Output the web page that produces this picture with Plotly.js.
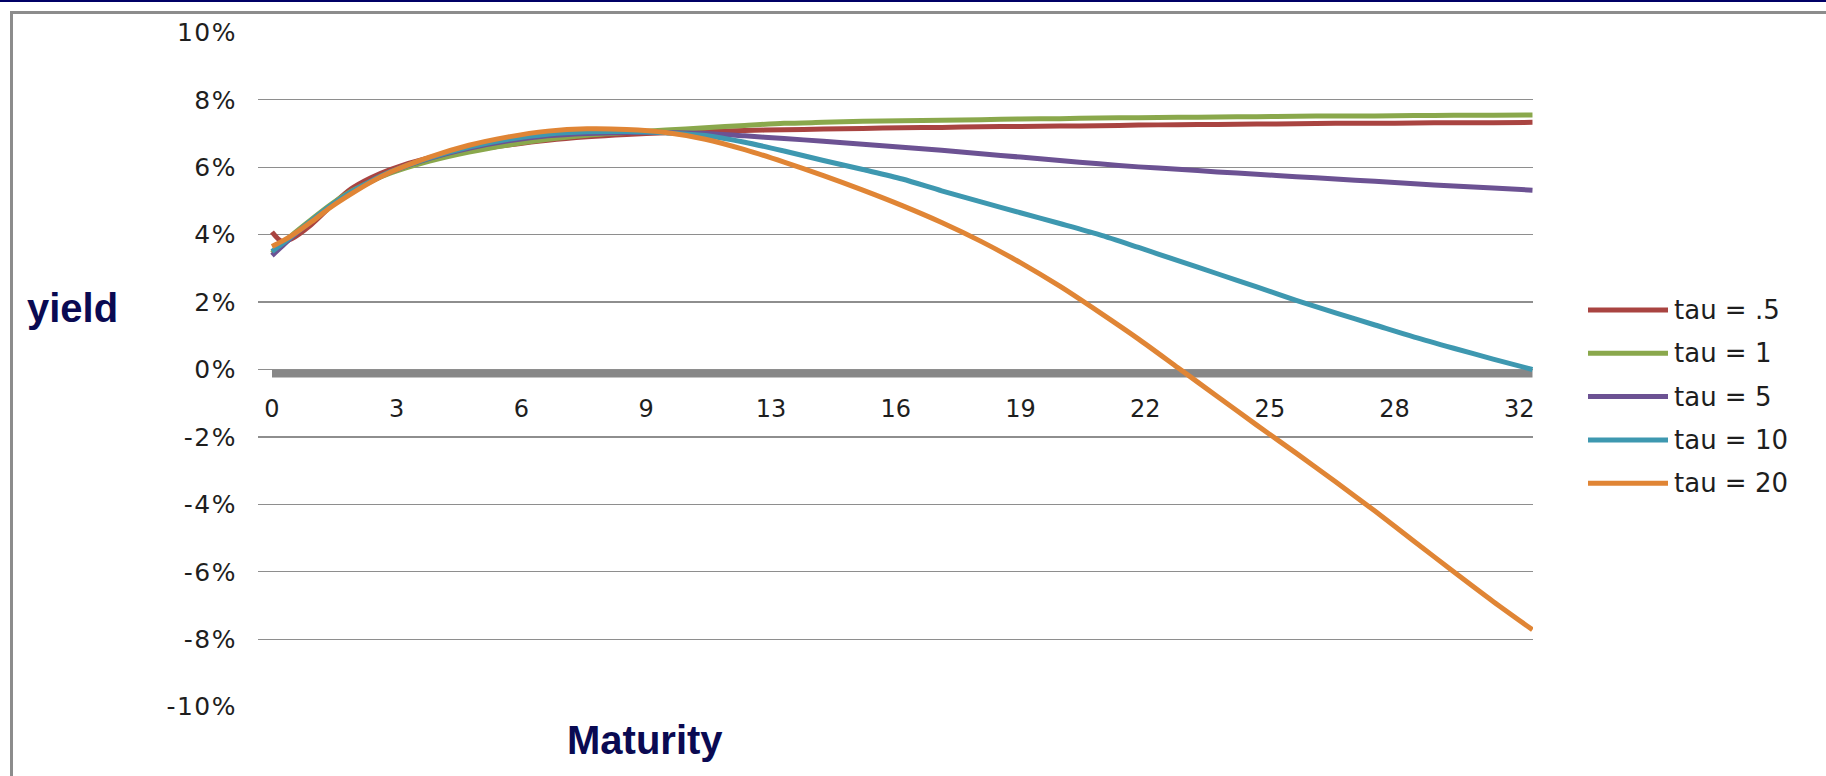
<!DOCTYPE html>
<html>
<head>
<meta charset="utf-8">
<script src="https://cdn.plot.ly/plotly-3.0.1.min.js"></script>
<style>
  html, body { margin: 0; padding: 0; background: #ffffff; }
  #wrap { position: relative; width: 1826px; height: 776px; overflow: hidden; background: #ffffff; }
  #topline { position: absolute; left: 0; top: 0; width: 1826px; height: 2px; background: #000066; }
  #frame { position: absolute; left: 10px; top: 11px; width: 1900px; height: 900px;
           border-left: 3px solid #8c8c8c; border-top: 3px solid #8c8c8c; }
  #chart { position: absolute; left: 0; top: 0; width: 1826px; height: 776px; }
  #chart .ytick text { letter-spacing: 1.5px; }
</style>
</head>
<body>
<div id="wrap">
  <div id="topline"></div>
  <div id="frame"></div>
  <div id="chart"></div>
</div>
<script>
// ---- data (yield in %) ----
const maturity = [0,0.25,0.5,1,1.5,2,2.5,3,4,5,6,7,8,9,10,11,12,13,14,15,16,17,18,19,20,21,22,23,24,25,26,27,28,29,30,31,32];

const tau05 = [4.08,3.80,3.88,4.30,4.85,5.35,5.68,5.93,6.28,6.50,6.66,6.80,6.90,6.97,7.02,7.06,7.09,7.11,7.13,7.15,7.17,7.18,7.20,7.21,7.22,7.23,7.25,7.26,7.27,7.28,7.29,7.30,7.30,7.31,7.32,7.32,7.33];
const tau1  = [3.45,3.72,3.98,4.45,4.90,5.28,5.57,5.82,6.18,6.45,6.66,6.83,6.95,7.03,7.10,7.17,7.24,7.30,7.33,7.36,7.38,7.39,7.41,7.43,7.44,7.46,7.47,7.48,7.49,7.50,7.51,7.52,7.52,7.53,7.54,7.54,7.55];
const tau5  = [3.38,3.65,3.92,4.40,4.85,5.25,5.57,5.85,6.26,6.56,6.78,6.93,7.00,7.03,7.03,7.00,6.93,6.85,6.77,6.68,6.59,6.50,6.40,6.30,6.20,6.10,6.01,5.94,5.86,5.79,5.72,5.65,5.58,5.51,5.44,5.38,5.32];
const tau10 = [3.50,3.72,3.95,4.42,4.87,5.26,5.58,5.86,6.28,6.60,6.83,6.98,7.05,7.06,7.02,6.94,6.74,6.48,6.20,5.93,5.65,5.30,4.97,4.65,4.33,4.00,3.62,3.23,2.84,2.45,2.05,1.68,1.32,0.96,0.63,0.31,0.00];
const tau20 = [3.65,3.80,3.97,4.38,4.82,5.20,5.55,5.85,6.30,6.65,6.90,7.07,7.14,7.12,7.03,6.83,6.52,6.15,5.75,5.32,4.86,4.36,3.80,3.17,2.47,1.70,0.90,0.05,-0.80,-1.65,-2.48,-3.33,-4.20,-5.10,-6.00,-6.88,-7.72];

const seriesNames  = ['tau = .5','tau = 1','tau = 5','tau = 10','tau = 20'];
const seriesValues = [tau05, tau1, tau5, tau10, tau20];
const seriesColors = ['#A94441','#8AA84C','#6C5293','#3E98B0','#E08535'];

// category labels on the maturity axis (every 38th monthly point)
const xTickMonths = [0,38,76,114,152,190,228,266,304,342,380];
const xTickLabels = ['0','3','6','9','13','16','19','22','25','28','32'];
const yTickVals   = [10,8,6,4,2,0,-2,-4,-6,-8,-10];
const yTickLabels = ['10%','8%','6%','4%','2%','0%','-2%','-4%','-6%','-8%','-10%'];

// ---- layout geometry ----
const W = 1826, H = 776;
const M = {l: 258, r: 293, t: 32, b: 69};
const pw = W - M.l - M.r, ph = H - M.t - M.b;
const px2x = p => (p - M.l) / pw;
const py2y = p => (H - M.b - p) / ph;

const traces = seriesNames.map((n, i) => ({
  type: 'scatter', mode: 'lines', name: n,
  x: maturity, y: seriesValues[i],
  line: {color: seriesColors[i], width: 5, shape: 'spline', smoothing: 0.8},
  showlegend: false, hoverinfo: 'skip'
}));

const shapes = [
  // horizontal category axis line (thick grey bar just below 0%)
  {type: 'rect', xref: 'x', yref: 'y', x0: maturity[0], x1: maturity[maturity.length-1],
   y0: 0, y1: -0.24, fillcolor: '#878787', line: {width: 0}, layer: 'below'}
];
const titleFont = {family: 'Liberation Sans, Arial, sans-serif', size: 40, color: '#0a0a52'};
const annotations = [
  {text: '<b>yield</b>', xref: 'paper', yref: 'paper', x: px2x(73), y: py2y(308),
   xanchor: 'center', yanchor: 'middle', showarrow: false, font: titleFont},
  {text: '<b>Maturity</b>', xref: 'paper', yref: 'paper', x: px2x(645), y: py2y(740),
   xanchor: 'center', yanchor: 'middle', showarrow: false, font: titleFont}
];
// manual legend (long line samples like the original)
const legTop = 310, legStep = 43.3;
seriesNames.forEach((n, i) => {
  const yy = py2y(legTop + i * legStep);
  shapes.push({type: 'line', xref: 'paper', yref: 'paper', x0: px2x(1588), x1: px2x(1668),
    y0: yy, y1: yy, line: {color: seriesColors[i], width: 5}});
  annotations.push({text: n, xref: 'paper', yref: 'paper', x: px2x(1672), y: yy,
    xanchor: 'left', yanchor: 'middle', showarrow: false,
    font: {family: 'DejaVu Sans, sans-serif', size: 26, color: '#1e1e1e'}});
});

const layout = {
  width: W, height: H,
  margin: M,
  paper_bgcolor: 'rgba(0,0,0,0)', plot_bgcolor: 'rgba(0,0,0,0)',
  showlegend: false,
  xaxis: {
    range: [-0.3554, 32.013], anchor: 'free', position: 0.5,
    tickmode: 'array', tickvals: xTickMonths.map(m => m / 12), ticktext: xTickLabels,
    showgrid: false, zeroline: false, showline: false, ticks: '',
    ticklabelstandoff: 22,
    tickfont: {family: 'DejaVu Sans, sans-serif', size: 24, color: '#1e1e1e'}
  },
  yaxis: {
    range: [-10.01, 10.01],
    tickmode: 'array', tickvals: yTickVals, ticktext: yTickLabels,
    showgrid: true, gridcolor: '#8e8e8e', gridwidth: 1.4,
    zeroline: false, showline: false, ticks: '',
    ticklabelstandoff: 20,
    tickfont: {family: 'DejaVu Sans, sans-serif', size: 25, color: '#1e1e1e'}
  },
  shapes: shapes,
  annotations: annotations
};

Plotly.newPlot('chart', traces, layout, {staticPlot: true, displayModeBar: false});
</script>
</body>
</html>
